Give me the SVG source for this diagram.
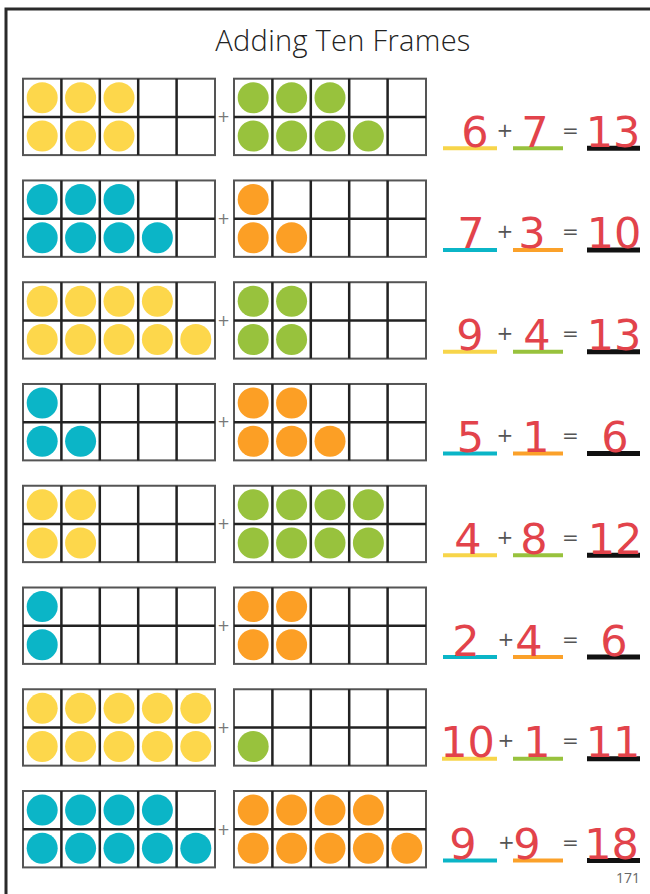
<svg xmlns="http://www.w3.org/2000/svg" width="650" height="894" viewBox="0 0 650 894">
<style>
.frame{fill:#fff;stroke:#555;stroke-width:2}
.grid{stroke:#222;stroke-width:2.5;fill:none}
.y{fill:#FDD74B}.g{fill:#98C23D}.c{fill:#0BB5C7}.o{fill:#FC9F25}
.num{font-family:"DejaVu Sans",sans-serif;font-size:43px;fill:#E2434B;text-anchor:middle}
.op{font-family:"DejaVu Sans",sans-serif;font-size:20px;fill:#555;text-anchor:middle}
.pl{font-family:"DejaVu Sans",sans-serif;font-size:15px;fill:#777;text-anchor:middle}
.ly{stroke:#F7D54A;stroke-width:4}.lg{stroke:#98C23D;stroke-width:4}.lc{stroke:#0BB5C7;stroke-width:4}.lo{stroke:#FBA12A;stroke-width:4}.lk{stroke:#111;stroke-width:5}
</style>
<defs>
<g id="tf">
<rect class="frame" x="0" y="0" width="192" height="76.4"/>
<path class="grid" d="M0 38.2H192M38.4 0V76.4M76.8 0V76.4M115.2 0V76.4M153.6 0V76.4"/>
</g>
</defs>
<g id="page">
<path d="M6 894V9H650" fill="none" stroke="#2a2a2a" stroke-width="3"/>
<text x="343" y="51" font-family="'Open Sans','DejaVu Sans',sans-serif" font-weight="300" font-size="29" letter-spacing="0.3" fill="#222" text-anchor="middle">Adding Ten Frames</text>
<text x="640" y="883" font-family="'Open Sans','DejaVu Sans',sans-serif" font-size="14" fill="#666" text-anchor="end">171</text>
</g>

<g id="row1" transform="translate(0,78.7)">
<use href="#tf" x="23"/><use href="#tf" x="234"/>
<text class="pl" x="223.5" y="43.5">+</text>
<g class="y"><circle cx="42.2" cy="19.1" r="15.5"/><circle cx="80.6" cy="19.1" r="15.5"/><circle cx="119" cy="19.1" r="15.5"/><circle cx="42.2" cy="57.3" r="15.5"/><circle cx="80.6" cy="57.3" r="15.5"/><circle cx="119" cy="57.3" r="15.5"/></g>
<g class="g"><circle cx="253.2" cy="19.1" r="15.5"/><circle cx="291.6" cy="19.1" r="15.5"/><circle cx="330" cy="19.1" r="15.5"/><circle cx="253.2" cy="57.3" r="15.5"/><circle cx="291.6" cy="57.3" r="15.5"/><circle cx="330" cy="57.3" r="15.5"/><circle cx="368.4" cy="57.3" r="15.5"/></g>
<line class="ly" x1="443" y1="69.6" x2="497" y2="69.6"/><line class="lg" x1="513" y1="69.6" x2="563" y2="69.6"/><line class="lk" x1="587" y1="69.6" x2="640" y2="69.6"/>
<text class="num" x="475" y="68">6</text><text class="op" x="505" y="58">+</text><text class="num" x="535" y="68">7</text><text class="op" x="570.5" y="58">=</text><text class="num" x="613" y="68">13</text>
</g>

<g id="row2" transform="translate(0,180.46)">
<use href="#tf" x="23"/><use href="#tf" x="234"/>
<text class="pl" x="223.5" y="43.5">+</text>
<g class="c"><circle cx="42.2" cy="19.1" r="15.5"/><circle cx="80.6" cy="19.1" r="15.5"/><circle cx="119" cy="19.1" r="15.5"/><circle cx="42.2" cy="57.3" r="15.5"/><circle cx="80.6" cy="57.3" r="15.5"/><circle cx="119" cy="57.3" r="15.5"/><circle cx="157.4" cy="57.3" r="15.5"/></g>
<g class="o"><circle cx="253.2" cy="19.1" r="15.5"/><circle cx="253.2" cy="57.3" r="15.5"/><circle cx="291.6" cy="57.3" r="15.5"/></g>
<line class="lc" x1="443" y1="69.6" x2="497" y2="69.6"/><line class="lo" x1="513" y1="69.6" x2="563" y2="69.6"/><line class="lk" x1="587" y1="69.6" x2="640" y2="69.6"/>
<text class="num" x="471" y="68">7</text><text class="op" x="505" y="58">+</text><text class="num" x="532" y="68">3</text><text class="op" x="570.5" y="58">=</text><text class="num" x="614" y="68">10</text>
</g>

<g id="row3" transform="translate(0,282.22)">
<use href="#tf" x="23"/><use href="#tf" x="234"/>
<text class="pl" x="223.5" y="43.5">+</text>
<g class="y"><circle cx="42.2" cy="19.1" r="15.5"/><circle cx="80.6" cy="19.1" r="15.5"/><circle cx="119" cy="19.1" r="15.5"/><circle cx="157.4" cy="19.1" r="15.5"/><circle cx="42.2" cy="57.3" r="15.5"/><circle cx="80.6" cy="57.3" r="15.5"/><circle cx="119" cy="57.3" r="15.5"/><circle cx="157.4" cy="57.3" r="15.5"/><circle cx="195.8" cy="57.3" r="15.5"/></g>
<g class="g"><circle cx="253.2" cy="19.1" r="15.5"/><circle cx="291.6" cy="19.1" r="15.5"/><circle cx="253.2" cy="57.3" r="15.5"/><circle cx="291.6" cy="57.3" r="15.5"/></g>
<line class="ly" x1="443" y1="69.6" x2="497" y2="69.6"/><line class="lg" x1="513" y1="69.6" x2="563" y2="69.6"/><line class="lk" x1="587" y1="69.6" x2="640" y2="69.6"/>
<text class="num" x="470" y="68">9</text><text class="op" x="505" y="58">+</text><text class="num" x="537" y="68">4</text><text class="op" x="570.5" y="58">=</text><text class="num" x="614" y="68">13</text>
</g>

<g id="row4" transform="translate(0,383.98)">
<use href="#tf" x="23"/><use href="#tf" x="234"/>
<text class="pl" x="223.5" y="43.5">+</text>
<g class="c"><circle cx="42.2" cy="19.1" r="15.5"/><circle cx="42.2" cy="57.3" r="15.5"/><circle cx="80.6" cy="57.3" r="15.5"/></g>
<g class="o"><circle cx="253.2" cy="19.1" r="15.5"/><circle cx="291.6" cy="19.1" r="15.5"/><circle cx="253.2" cy="57.3" r="15.5"/><circle cx="291.6" cy="57.3" r="15.5"/><circle cx="330" cy="57.3" r="15.5"/></g>
<line class="lc" x1="443" y1="69.6" x2="497" y2="69.6"/><line class="lo" x1="513" y1="69.6" x2="563" y2="69.6"/><line class="lk" x1="587" y1="69.6" x2="640" y2="69.6"/>
<text class="num" x="470.5" y="68">5</text><text class="op" x="505" y="58">+</text><text class="num" x="536" y="68">1</text><text class="op" x="570.5" y="58">=</text><text class="num" x="615" y="68">6</text>
</g>

<g id="row5" transform="translate(0,485.74)">
<use href="#tf" x="23"/><use href="#tf" x="234"/>
<text class="pl" x="223.5" y="43.5">+</text>
<g class="y"><circle cx="42.2" cy="19.1" r="15.5"/><circle cx="80.6" cy="19.1" r="15.5"/><circle cx="42.2" cy="57.3" r="15.5"/><circle cx="80.6" cy="57.3" r="15.5"/></g>
<g class="g"><circle cx="253.2" cy="19.1" r="15.5"/><circle cx="291.6" cy="19.1" r="15.5"/><circle cx="330" cy="19.1" r="15.5"/><circle cx="368.4" cy="19.1" r="15.5"/><circle cx="253.2" cy="57.3" r="15.5"/><circle cx="291.6" cy="57.3" r="15.5"/><circle cx="330" cy="57.3" r="15.5"/><circle cx="368.4" cy="57.3" r="15.5"/></g>
<line class="ly" x1="443" y1="69.6" x2="497" y2="69.6"/><line class="lg" x1="513" y1="69.6" x2="563" y2="69.6"/><line class="lk" x1="587" y1="69.6" x2="640" y2="69.6"/>
<text class="num" x="468" y="68">4</text><text class="op" x="505" y="58">+</text><text class="num" x="534" y="68">8</text><text class="op" x="570.5" y="58">=</text><text class="num" x="615" y="68">12</text>
</g>

<g id="row6" transform="translate(0,587.5)">
<use href="#tf" x="23"/><use href="#tf" x="234"/>
<text class="pl" x="223.5" y="43.5">+</text>
<g class="c"><circle cx="42.2" cy="19.1" r="15.5"/><circle cx="42.2" cy="57.3" r="15.5"/></g>
<g class="o"><circle cx="253.2" cy="19.1" r="15.5"/><circle cx="291.6" cy="19.1" r="15.5"/><circle cx="253.2" cy="57.3" r="15.5"/><circle cx="291.6" cy="57.3" r="15.5"/></g>
<line class="lc" x1="443" y1="69.6" x2="497" y2="69.6"/><line class="lo" x1="513" y1="69.6" x2="563" y2="69.6"/><line class="lk" x1="587" y1="69.6" x2="640" y2="69.6"/>
<text class="num" x="466" y="68">2</text><text class="op" x="506" y="58">+</text><text class="num" x="529" y="68">4</text><text class="op" x="570.5" y="58">=</text><text class="num" x="614" y="68">6</text>
</g>

<g id="row7" transform="translate(0,689.26)">
<use href="#tf" x="23"/><use href="#tf" x="234"/>
<text class="pl" x="223.5" y="43.5">+</text>
<g class="y"><circle cx="42.2" cy="19.1" r="15.5"/><circle cx="80.6" cy="19.1" r="15.5"/><circle cx="119" cy="19.1" r="15.5"/><circle cx="157.4" cy="19.1" r="15.5"/><circle cx="195.8" cy="19.1" r="15.5"/><circle cx="42.2" cy="57.3" r="15.5"/><circle cx="80.6" cy="57.3" r="15.5"/><circle cx="119" cy="57.3" r="15.5"/><circle cx="157.4" cy="57.3" r="15.5"/><circle cx="195.8" cy="57.3" r="15.5"/></g>
<g class="g"><circle cx="253.2" cy="57.3" r="15.5"/></g>
<line class="ly" x1="442" y1="69.6" x2="497" y2="69.6"/><line class="lg" x1="513" y1="69.6" x2="563" y2="69.6"/><line class="lk" x1="587" y1="69.6" x2="640" y2="69.6"/>
<text class="num" x="467.5" y="68">10</text><text class="op" x="506" y="58">+</text><text class="num" x="537" y="68">1</text><text class="op" x="570.5" y="58">=</text><text class="num" x="613" y="68">11</text>
</g>

<g id="row8" transform="translate(0,791)">
<use href="#tf" x="23"/><use href="#tf" x="234"/>
<text class="pl" x="223.5" y="43.5">+</text>
<g class="c"><circle cx="42.2" cy="19.1" r="15.5"/><circle cx="80.6" cy="19.1" r="15.5"/><circle cx="119" cy="19.1" r="15.5"/><circle cx="157.4" cy="19.1" r="15.5"/><circle cx="42.2" cy="57.3" r="15.5"/><circle cx="80.6" cy="57.3" r="15.5"/><circle cx="119" cy="57.3" r="15.5"/><circle cx="157.4" cy="57.3" r="15.5"/><circle cx="195.8" cy="57.3" r="15.5"/></g>
<g class="o"><circle cx="253.2" cy="19.1" r="15.5"/><circle cx="291.6" cy="19.1" r="15.5"/><circle cx="330" cy="19.1" r="15.5"/><circle cx="368.4" cy="19.1" r="15.5"/><circle cx="253.2" cy="57.3" r="15.5"/><circle cx="291.6" cy="57.3" r="15.5"/><circle cx="330" cy="57.3" r="15.5"/><circle cx="368.4" cy="57.3" r="15.5"/><circle cx="406.8" cy="57.3" r="15.5"/></g>
<line class="lc" x1="443" y1="69.6" x2="497" y2="69.6"/><line class="lo" x1="513" y1="69.6" x2="563" y2="69.6"/><line class="lk" x1="587" y1="69.6" x2="640" y2="69.6"/>
<text class="num" x="463" y="68">9</text><text class="op" x="506.5" y="58">+</text><text class="num" x="527" y="68">9</text><text class="op" x="570.5" y="58">=</text><text class="num" x="611.5" y="68">18</text>
</g>
</svg>
